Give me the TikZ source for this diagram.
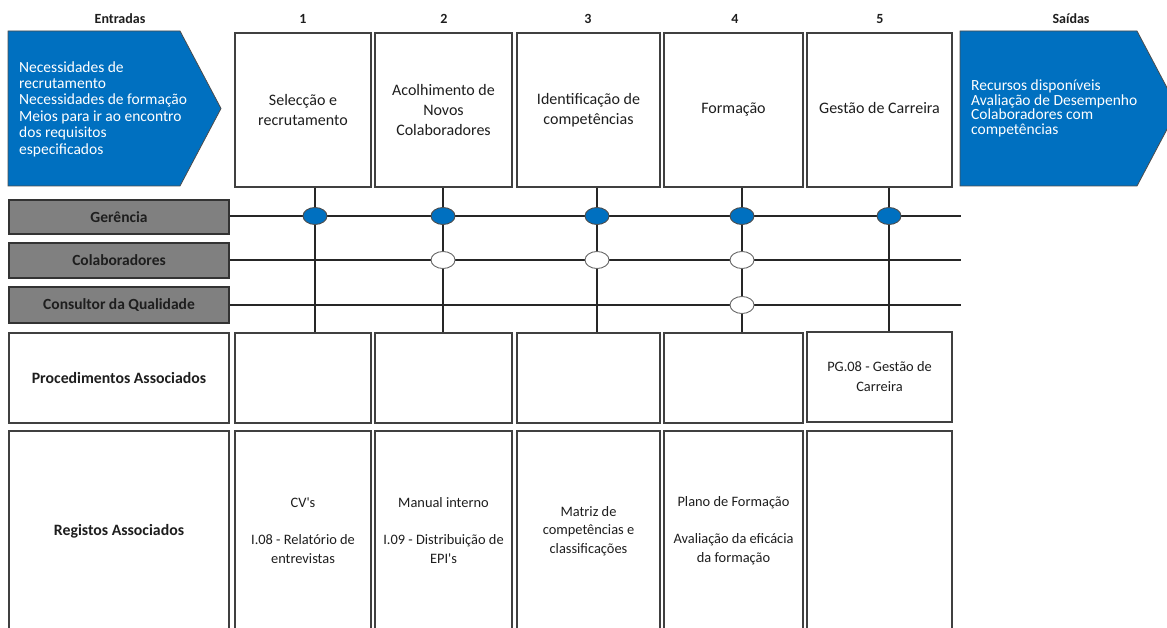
\documentclass[tikz,border=0pt]{standalone}
\usepackage{fontspec}
\setmainfont{Carlito}
\usetikzlibrary{shapes.geometric}
\definecolor{flowblue}{RGB}{0,112,192}
\definecolor{lanegray}{RGB}{128,128,128}
\definecolor{inkdark}{RGB}{30,30,30}
\begin{document}
\begin{tikzpicture}[x=1pt,y=-1pt,
  cellbox/.style={draw=black!75,line width=1.2pt,fill=white,inner sep=2pt,
    align=center,text=inkdark},
  procbox/.style={cellbox,minimum height=154pt,font=\fontsize{16}{20}\selectfont},
  procrow/.style={cellbox,minimum height=90pt,font=\fontsize{14.4}{20}\selectfont},
  regrow/.style={cellbox,minimum height=269pt},
  rowlabel/.style={font=\bfseries\fontsize{15.8}{18}\selectfont,text=inkdark},
  lanebox/.style={draw=black!80,line width=1.2pt,fill=lanegray,minimum width=220pt,
    inner sep=0pt,font=\bfseries\fontsize{15.5}{17}\selectfont,text=inkdark},
  header/.style={font=\bfseries\fontsize{14}{16}\selectfont,text=inkdark},
  link/.style={draw=black!85,line width=1.1pt},
  role/.style={ellipse,draw,line width=0.9pt,minimum width=24pt,minimum height=17pt,inner sep=0pt},
  leads/.style={role,fill=flowblue,draw=black!70},
  helps/.style={role,fill=white,draw=black!60},
  flowarrow/.style={fill=flowblue,draw=black!70,line width=0.8pt},
  flowtext/.style={text=white,align=left,inner sep=0pt,anchor=west}
]
\useasboundingbox (0,0) rectangle (1167,628);
\clip (0,0) rectangle (1167,628);

% headers
\node[header] (hin) at (120,19) {Entradas};
\node[header] (h1) at (303,19) {1};
\node[header] (h2) at (444,19) {2};
\node[header] (h3) at (588,19) {3};
\node[header] (h4) at (735,19) {4};
\node[header] (h5) at (880,19) {5};
\node[header] (hout) at (1071,19) {Saídas};

% input and output arrows
\draw[flowarrow] (8,31) -- (180,31) -- (221,108.5) -- (180,186) -- (8,186) -- cycle;
\node[flowtext,font=\fontsize{15.5}{16.4}\selectfont] (inputs) at (19,109)
  {Necessidades de\\recrutamento\\Necessidades de formação\\Meios para ir ao encontro\\dos requisitos\\especificados};
\draw[flowarrow] (960,31) -- (1137,31) -- (1178,108.5) -- (1137,186) -- (960,186) -- cycle;
\node[flowtext,font=\fontsize{15.5}{14.5}\selectfont] (outputs) at (971,108.5)
  {Recursos disponíveis\\Avaliação de Desempenho\\Colaboradores com\\competências};

% process steps
\node[procbox,minimum width=136pt] (p1) at (303,110) {Selecção e\\recrutamento};
\node[procbox,minimum width=137pt] (p2) at (443.5,110) {Acolhimento de\\Novos\\Colaboradores};
\node[procbox,minimum width=143pt] (p3) at (588.5,110) {Identificação de\\competências};
\node[procbox,minimum width=139pt] (p4) at (733.5,110) {\strut Formação};
\node[procbox,minimum width=145pt] (p5) at (879.5,110) {\strut Gestão de Carreira};

% roles
\node[lanebox,minimum height=34pt] (ger) at (119,217) {Gerência};
\node[lanebox,minimum height=35pt] (col) at (119,260.5) {Colaboradores};
\node[lanebox,minimum height=36pt] (cq) at (119,305) {Consultor da Qualidade};

% associated procedures
\node[procrow,minimum width=220pt] (proc) at (119,378) {};
\node[rowlabel] (procl) at (119,378) {Procedimentos Associados};
\node[procrow,minimum width=136pt] (q1) at (303,378) {};
\node[procrow,minimum width=137pt] (q2) at (443.5,378) {};
\node[procrow,minimum width=143pt] (q3) at (588.5,378) {};
\node[procrow,minimum width=139pt] (q4) at (733.5,378) {};
\node[procrow,minimum width=145pt] (q5) at (879.5,377) {PG.08 - Gestão de\\Carreira};

% associated records
\node[regrow,minimum width=220pt] (reg) at (119,565.5) {};
\node[rowlabel] (regl) at (119,531) {Registos Associados};
\node[regrow,minimum width=136pt] (r1) at (303,565.5) {};
\node[regrow,minimum width=137pt] (r2) at (443.5,565.5) {};
\node[regrow,minimum width=143pt] (r3) at (588.5,565.5) {};
\node[regrow,minimum width=139pt] (r4) at (733.5,565.5) {};
\node[regrow,minimum width=145pt] (r5) at (879.5,565.5) {};
\begin{scope}[every node/.style={align=center,text=inkdark,font=\fontsize{14.4}{18.5}\selectfont}]
\node (t1) at (303,530.5) {CV\textquotesingle s\\\strut\\I.08 - Relatório de\\entrevistas};
\node (t2) at (443.5,530.5) {Manual interno\\\strut\\I.09 - Distribuição de\\EPI\textquotesingle s};
\node (t3) at (588.5,531) {Matriz de\\competências e\\classificações};
\node (t4) at (733.5,530.5) {Plano de Formação\\\strut\\Avaliação da eficácia\\da formação};
\end{scope}

% swimlane lines
\coordinate (ge) at (961,216);
\coordinate (ce) at (961,260);
\coordinate (qe) at (961,305);
\draw[link] (ger.east |- ge) -- (ge);
\draw[link] (col.east |- ce) -- (ce);
\draw[link] (cq.east |- qe) -- (qe);

% step columns
\foreach \i/\x in {1/315,2/443,3/597,4/742,5/889}{
  \coordinate (c\i) at (\x,0);
  \draw[link] (p\i.south -| c\i) -- (q\i.north -| c\i);
}

% participation marks
\foreach \i in {1,...,5}{
  \node[leads] (g\i) at (c\i |- ge) {};
}
\foreach \i in {2,3,4}{
  \node[helps] (k\i) at (c\i |- ce) {};
}
\node[helps] (m4) at (c4 |- qe) {};
\end{tikzpicture}
\end{document}
